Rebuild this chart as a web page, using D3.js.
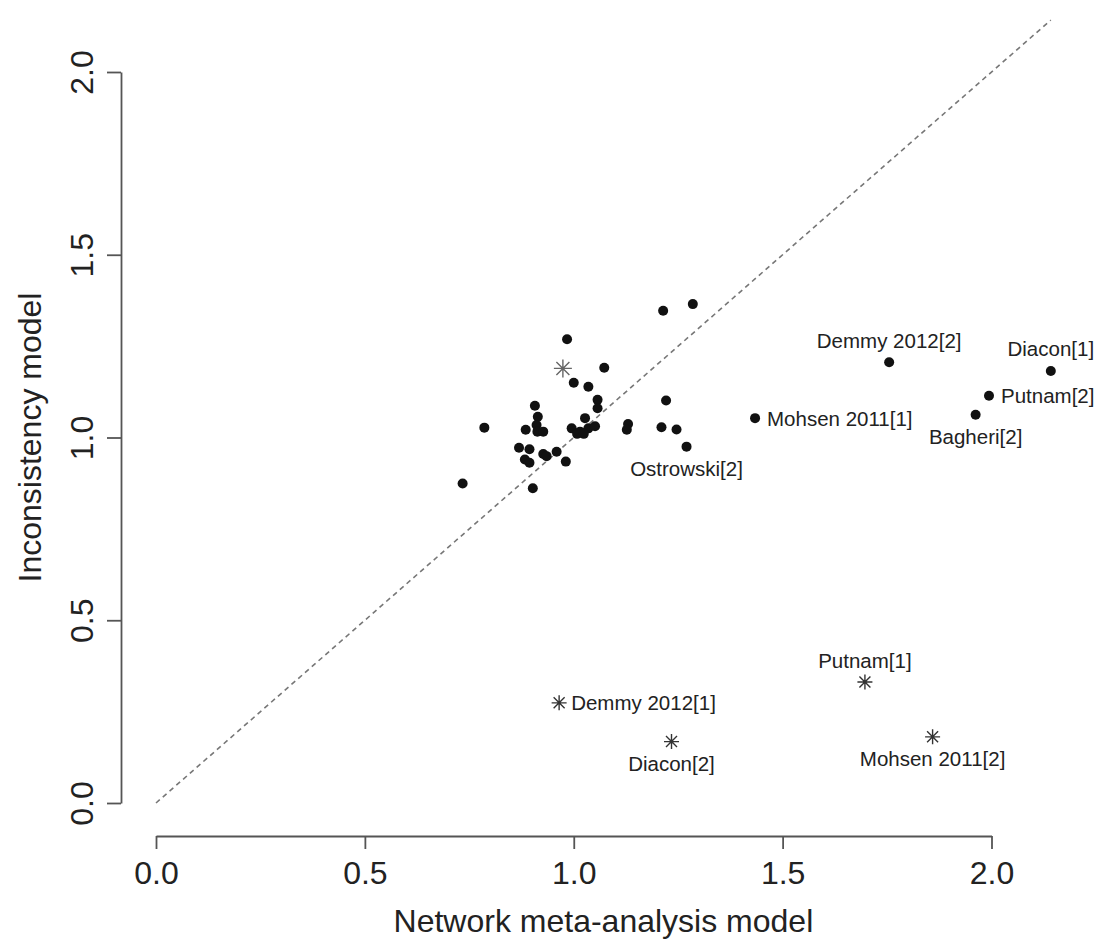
<!DOCTYPE html>
<html>
<head>
<meta charset="utf-8">
<script src="https://cdn.jsdelivr.net/npm/d3@7"></script>
<style>
	body { margin: 0; background: #fff; }
	svg text { font-family: "Liberation Sans", Arial, Helvetica, sans-serif; fill: #222; }
</style>
</head>
<body>
<div id="chart"></div>
<script>
// study estimates: network meta-analysis model (x) vs inconsistency model (y)
var dotNames = ["", "", "", "", "", "", "", "", "", "", "", "", "", "", "", "", "",
	"", "", "", "", "", "", "", "", "", "", "", "", "", "", "", "", "", "", "", "",
	"Ostrowski[2]", "Mohsen 2011[1]", "Demmy 2012[2]", "Bagheri[2]", "Putnam[2]", "Diacon[1]"]
var dotX = [0.786, 0.734, 0.907, 0.914, 0.885, 0.911, 0.913, 0.927, 0.869, 0.894, 0.883, 0.894, 0.927, 0.935, 0.959, 0.981, 0.902,
	1.214, 1.285, 0.984, 1.073, 1.000, 1.035, 1.057, 1.057, 1.027, 0.995, 1.015, 1.035, 1.051, 1.008, 1.024, 1.130, 1.127, 1.210, 1.246, 1.221,
	1.270, 1.434, 1.755, 1.962, 1.994, 2.142]
var dotY = [1.027, 0.874, 1.087, 1.057, 1.021, 1.034, 1.016, 1.016, 0.972, 0.968, 0.940, 0.931, 0.955, 0.949, 0.961, 0.934, 0.861,
	1.347, 1.365, 1.269, 1.191, 1.150, 1.139, 1.103, 1.080, 1.053, 1.025, 1.016, 1.025, 1.031, 1.010, 1.010, 1.037, 1.021, 1.028, 1.022, 1.101,
	0.975, 1.053, 1.206, 1.062, 1.114, 1.182]
var dotPos = ["", "", "", "", "", "", "", "", "", "", "", "", "", "", "", "", "",
	"", "", "", "", "", "", "", "", "", "", "", "", "", "", "", "", "", "", "", "",
	"below", "right", "above", "below", "right", "above"]

var starNames = ["", "Demmy 2012[1]", "Diacon[2]", "Putnam[1]", "Mohsen 2011[2]"]
var starX = [0.974, 0.965, 1.234, 1.697, 1.859]
var starY = [1.189, 0.274, 0.168, 0.331, 0.181]
var starPos = ["", "right", "below", "above", "below"]

var tickVals = [0, 0.5, 1, 1.5, 2]
var xTitle = "Network meta-analysis model"
var yTitle = "Inconsistency model"

var w = 1099, h = 942

var dots = dotX.map(function(d, i){ return {x: d, y: dotY[i], name: dotNames[i], pos: dotPos[i]} })
var stars = starX.map(function(d, i){ return {x: d, y: starY[i], name: starNames[i], pos: starPos[i]} })

var x = d3.scaleLinear().domain([0, 2]).range([156, 991.5])
var y = d3.scaleLinear().domain([0, 2]).range([803, 72])

var svg = d3.select("#chart")
	.append("svg")
	.attr("width", w)
	.attr("height", h)

// identity line, from 0 to the largest value
var lineEnd = d3.max(dotX.concat(dotY, starX, starY))
svg.append("line")
	.attr("x1", x(0)).attr("y1", y(0))
	.attr("x2", x(lineEnd)).attr("y2", y(lineEnd))
	.attr("stroke", "#777")
	.attr("stroke-width", 1.6)
	.attr("stroke-dasharray", "5,4")

// axes
var xAxis = svg.append("g")
	.attr("transform", "translate(0,836)")
	.call(d3.axisBottom(x).tickValues(tickVals).tickFormat(d3.format(".1f")).tickSize(13).tickSizeOuter(0))
xAxis.selectAll("text")
	.attr("y", 37)
	.attr("dy", 0)
	.attr("dominant-baseline", "central")
	.attr("font-size", "32px")

var yAxis = svg.append("g")
	.attr("transform", "translate(121,0)")
	.call(d3.axisLeft(y).tickValues(tickVals).tickFormat(d3.format(".1f")).tickSize(14).tickSizeOuter(0))
yAxis.selectAll("text")
	.attr("x", 0)
	.attr("dy", 0)
	.attr("transform", "translate(-39,0) rotate(-90)")
	.attr("text-anchor", "middle")
	.attr("dominant-baseline", "central")
	.attr("font-size", "32px")

svg.selectAll(".domain, .tick line")
	.attr("stroke", "#555")
	.attr("stroke-width", 1.8)
svg.selectAll(".tick text").attr("fill", "#222").attr("font-family", null)

// x title sits in the middle of the plotted x range (0 .. lineEnd)
svg.append("text")
	.attr("x", (x(0) + x(lineEnd)) / 2)
	.attr("y", 921)
	.attr("text-anchor", "middle")
	.attr("dominant-baseline", "central")
	.attr("font-size", "32px")
	.text(xTitle)

svg.append("text")
	.attr("transform", "translate(30," + (y(0) + y(2)) / 2 + ") rotate(-90)")
	.attr("text-anchor", "middle")
	.attr("dominant-baseline", "central")
	.attr("font-size", "32px")
	.text(yTitle)

// points
svg.selectAll(".dot")
	.data(dots)
	.enter()
	.append("circle")
	.attr("class", "dot")
	.attr("cx", function(d){ return x(d.x) })
	.attr("cy", function(d){ return y(d.y) })
	.attr("r", 5)
	.attr("fill", "#111")

// pch 8 style stars: a plus and a cross on top of each other
function starPath(d){
	var cx = x(d.x), cy = y(d.y), a = d.name ? 7.5 : 9, b = d.name ? 5.5 : 6.5
	return "M" + (cx - a) + "," + cy + "H" + (cx + a) +
		"M" + cx + "," + (cy - a) + "V" + (cy + a) +
		"M" + (cx - b) + "," + (cy - b) + "L" + (cx + b) + "," + (cy + b) +
		"M" + (cx - b) + "," + (cy + b) + "L" + (cx + b) + "," + (cy - b)
}
svg.selectAll(".star")
	.data(stars)
	.enter()
	.append("path")
	.attr("class", "star")
	.attr("d", starPath)
	.attr("stroke", function(d){ return d.name ? "#333" : "#666" })
	.attr("stroke-width", 1.4)
	.attr("fill", "none")

// labels (like text(pos=1/3/4) in R)
var labelled = dots.concat(stars).filter(function(d){ return d.name })
svg.selectAll(".lab")
	.data(labelled)
	.enter()
	.append("text")
	.attr("class", "lab")
	.attr("x", function(d){ return d.pos == "right" ? x(d.x) + 12 : x(d.x) })
	.attr("y", function(d){
		if(d.pos == "above") return y(d.y) - 22
		if(d.pos == "below") return y(d.y) + 22
		return y(d.y)
	})
	.attr("text-anchor", function(d){ return d.pos == "right" ? "start" : "middle" })
	.attr("dominant-baseline", "central")
	.attr("font-size", "20.5px")
	.attr("fill", "#333")
	.text(function(d){ return d.name })
</script>
</body>
</html>
